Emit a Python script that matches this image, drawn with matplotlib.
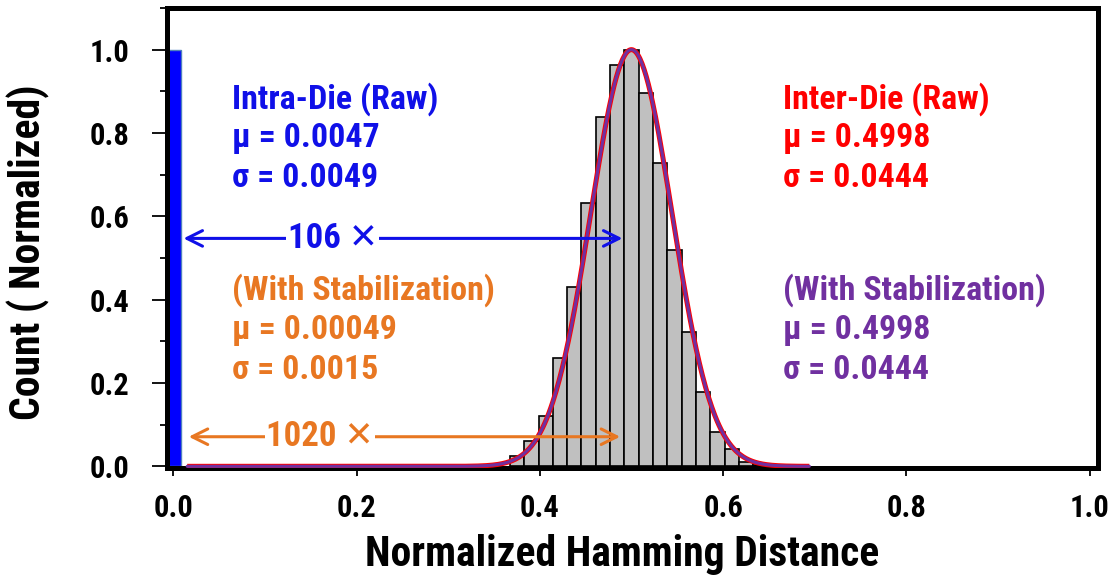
import numpy as np
import matplotlib
matplotlib.use("Agg")
import matplotlib.pyplot as plt
from matplotlib.ticker import MultipleLocator

plt.rcParams['font.family'] = ['Roboto Condensed', 'DejaVu Sans']
plt.rcParams['font.weight'] = 'bold'
plt.rcParams['axes.labelweight'] = 'bold'

# Inter-die histogram (64-bit responses -> bin width 1/64)
inter_bins = [k / 64 for k in range(24, 42)]
inter_counts = [0.025, 0.061, 0.121, 0.261, 0.430, 0.631, 0.838, 0.964, 1.0,
                0.896, 0.729, 0.519, 0.323, 0.179, 0.083, 0.041, 0.011, 0.003]
bin_width = 1 / 64

# Intra-die histogram (all in first bin)
intra_bins = [0.0]
intra_counts = [1.0]

# fitted stats
inter_raw = (0.4998, 0.0444)
inter_stab = (0.4998, 0.0444)
fit_range = (0.015, 0.694)

# colours
BLUE = '#1010E8'
RED = '#FF0000'
ORANGE = '#E87722'
PURPLE = '#7030A0'

fig = plt.figure(figsize=(11.18, 5.82), dpi=100)
ax = fig.add_axes([0.1494, 0.1959, 0.8327, 0.7904])

ax.bar(inter_bins, inter_counts, width=bin_width, color='#C0C0C0',
       edgecolor='black', linewidth=1.2, zorder=2)
ax.bar(intra_bins, intra_counts, width=bin_width, color='#0000FF',
       edgecolor='#4F81BD', linewidth=1.0, zorder=2)

x = np.linspace(fit_range[0], fit_range[1], 600)
mu, sd = inter_raw
ax.plot(x, np.exp(-(x - mu) ** 2 / (2 * sd ** 2)), color=RED, lw=3.6, zorder=3,
        solid_capstyle='butt')
mu, sd = inter_stab
ax.plot(x, np.exp(-(x - mu) ** 2 / (2 * sd ** 2)), color=PURPLE, lw=2.2, zorder=4,
        solid_capstyle='round')

# ratio arrows
ax.annotate('', xy=(0.490, 0.547), xytext=(0.011, 0.547),
            arrowprops=dict(arrowstyle='<->', color=BLUE, lw=2.2, mutation_scale=28,
                            shrinkA=0, shrinkB=0), zorder=5)
ax.text(0.174, 0.547, '106 ✕', color=BLUE, fontsize=25, ha='center', va='center',
        bbox=dict(facecolor='white', edgecolor='none', pad=1), zorder=6)
ax.annotate('', xy=(0.4875, 0.071), xytext=(0.0167, 0.071),
            arrowprops=dict(arrowstyle='<->', color=ORANGE, lw=2.2, mutation_scale=28,
                            shrinkA=0, shrinkB=0), zorder=5)
ax.text(0.160, 0.071, '1020 ✕', color=ORANGE, fontsize=25, ha='center', va='center',
        bbox=dict(facecolor='white', edgecolor='none', pad=1), zorder=6)

# stats text
blocks = [
    (0.064, 0.8825, BLUE, ['Intra-Die (Raw)', 'μ = 0.0047', 'σ = 0.0049']),
    (0.064, 0.422, ORANGE, ['(With Stabilization)', 'μ = 0.00049', 'σ = 0.0015']),
    (0.665, 0.8825, RED, ['Inter-Die (Raw)', 'μ = 0.4998', 'σ = 0.0444']),
    (0.665, 0.422, PURPLE, ['(With Stabilization)', 'μ = 0.4998', 'σ = 0.0444']),
]
for bx, by, col, lines in blocks:
    for i, s in enumerate(lines):
        ax.text(bx, by - i * 0.095, s, color=col, fontsize=24.5, ha='left', va='center',
                zorder=6)

ax.set_xlim(-0.007, 1.009)
ax.set_ylim(-0.004, 1.1)
ax.xaxis.set_major_locator(MultipleLocator(0.2))
ax.xaxis.set_minor_locator(MultipleLocator(0.1))
ax.yaxis.set_major_locator(MultipleLocator(0.2))
ax.yaxis.set_minor_locator(MultipleLocator(0.1))
ax.xaxis.set_major_formatter(plt.FormatStrFormatter('%.1f'))
ax.yaxis.set_major_formatter(plt.FormatStrFormatter('%.1f'))

for sp in ax.spines.values():
    sp.set_linewidth(3.6)
ax.tick_params(axis='y', which='major', direction='out', length=11, width=1.3,
               labelsize=22, pad=16)
ax.tick_params(axis='y', which='minor', direction='out', length=5, width=1.3)
ax.tick_params(axis='x', which='major', direction='out', length=6, width=1.3,
               labelsize=22, pad=12)
ax.tick_params(axis='x', which='minor', direction='out', length=2.5, width=1.3)

ax.set_xlabel('Normalized Hamming Distance', fontsize=30)
ax.set_ylabel('Count ( Normalized)', fontsize=30)
ax.xaxis.set_label_coords(0.489, -0.189)
ax.yaxis.set_label_coords(-0.149, 0.47)
ax.xaxis.label.set_va('center')
ax.yaxis.label.set_va('center')

fig.savefig('out.png', dpi=100)
